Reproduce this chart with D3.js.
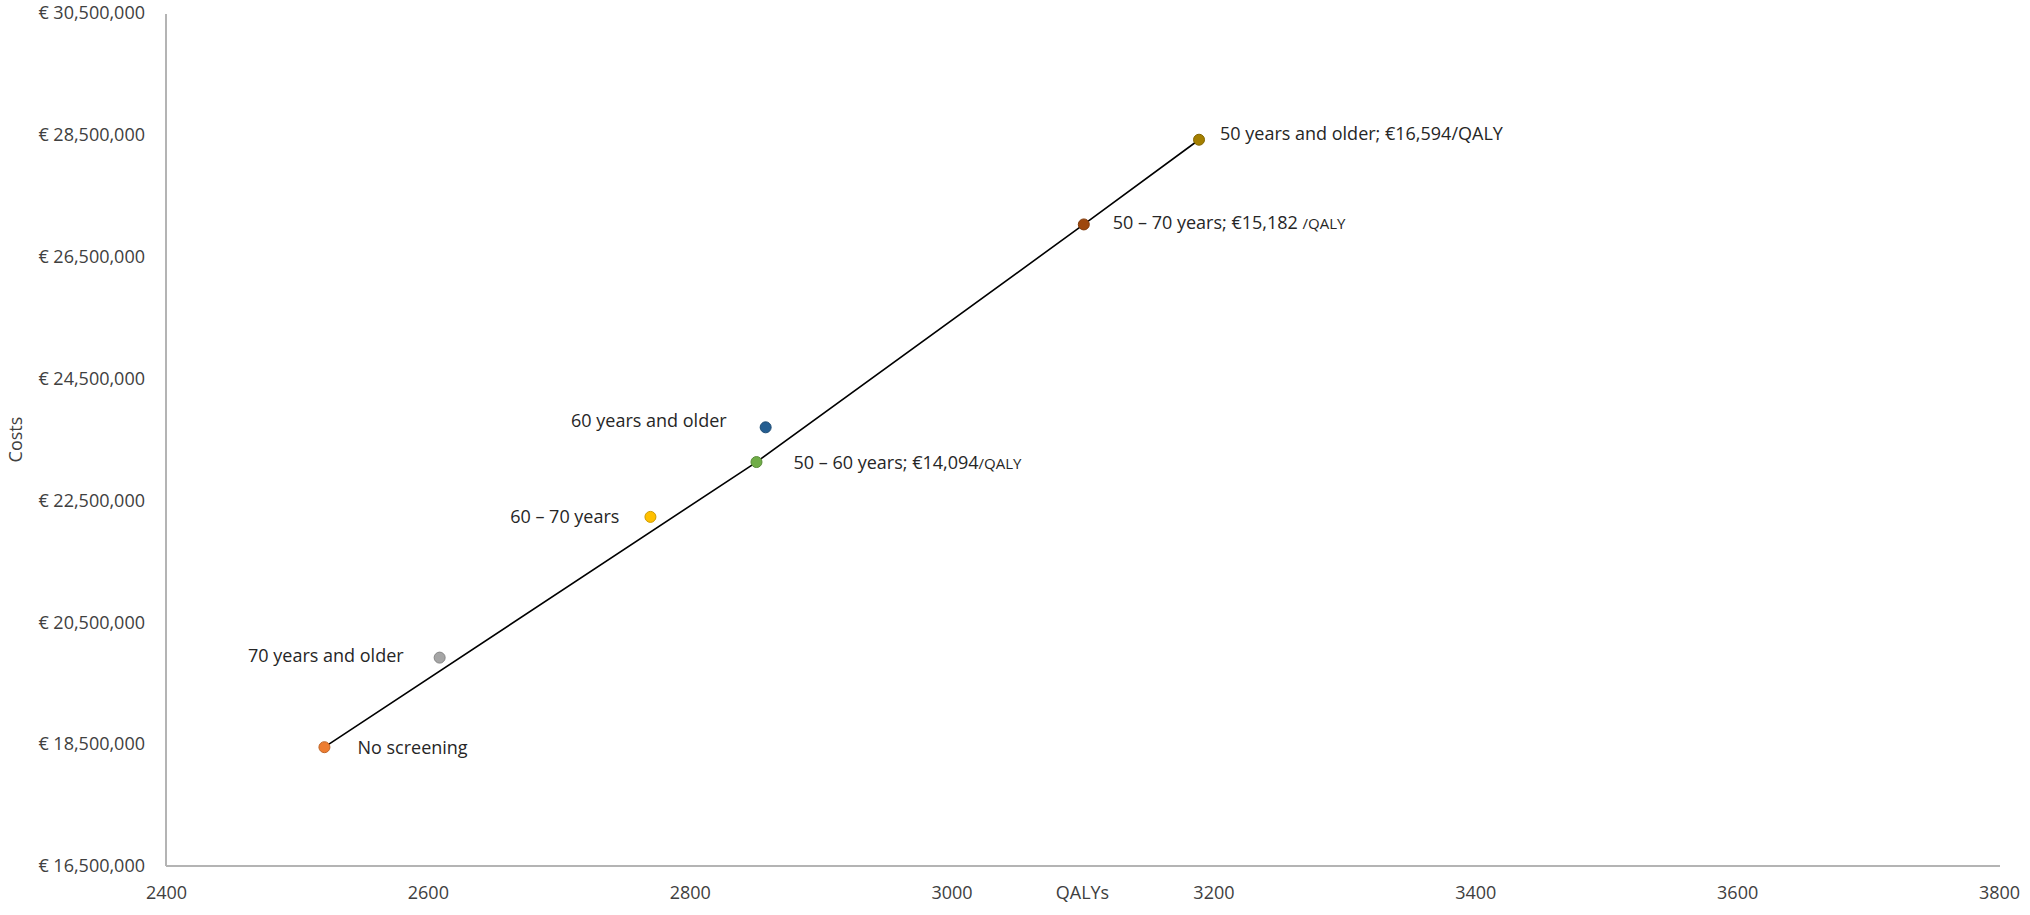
<!DOCTYPE html>
<html>
<head>
<meta charset="utf-8">
<script src="https://cdn.jsdelivr.net/npm/d3@7"></script>
<style>
  html, body { margin: 0; padding: 0; background: #ffffff; }
  svg { display: block; }
  text { font-family: "Open Sans", "Noto Sans", sans-serif; }
</style>
</head>
<body>
<svg id="chart" width="2030" height="915"></svg>
<script>
// ---- data ----
const strategies = ["No screening", "70 years and older", "60 \u2013 70 years", "50 \u2013 60 years", "60 years and older", "50 \u2013 70 years", "50 years and older"];
const qalys = [2521, 2609, 2770, 2851, 2858, 3101, 3189];
const costs = [18450000, 19920000, 22230000, 23130000, 23700000, 27030000, 28420000];
const icerText = ["", "", "", "\u20ac14,094", "", "\u20ac15,182 ", "\u20ac16,594"];
const frontier = ["No screening", "50 \u2013 60 years", "50 \u2013 70 years", "50 years and older"];
const xTicks = [2400, 2600, 2800, 3000, 3200, 3400, 3600, 3800];
const yTicks = [16500000, 18500000, 20500000, 22500000, 24500000, 26500000, 28500000, 30500000];
const xTitle = "QALYs";
const yTitle = "Costs";

// ---- styles ----
const colors = ["#ED7D31", "#A5A5A5", "#FFC000", "#70AD47", "#255E91", "#9E480E", "#A47F00"];
// label placement: [dx, dy, anchor, smallUnit]
const labelPlace = [
  [33, 0, "start", false],
  [-36, -2, "end", false],
  [-31, 0, "end", false],
  [37, 0, "start", true],
  [-39, -7, "end", false],
  [29, -2, "start", true],
  [21, -6, "start", false]
];

const svg = d3.select("#chart");
const margin = { left: 166, top: 13 };

const x = d3.scaleLinear().domain([2400, 3800]).range([margin.left, 1999]);
const y = d3.scaleLinear().domain([16500000, 30500000]).range([866, margin.top]);

const axisColor = "#B4B4B4";
const textColor = "#404040";

// y axis
const yAxis = d3.axisLeft(y).tickValues(yTicks).tickSize(0).tickPadding(21)
  .tickFormat(d => "\u20ac " + d3.format(",")(d));
const gy = svg.append("g").attr("transform", `translate(${margin.left},0)`).call(yAxis);
gy.select(".domain").attr("stroke", axisColor).attr("stroke-width", 2).attr("d", `M0,${y(30500000) + 1}V${y(16500000)}`);
gy.selectAll("text").attr("font-size", 18).attr("fill", textColor).attr("font-family", "Open Sans");

// x axis
const xAxis = d3.axisBottom(x).tickValues(xTicks).tickSize(0).tickPadding(20).tickFormat(d3.format("d"));
const gx = svg.append("g").attr("transform", `translate(0,${y(16500000)})`).call(xAxis);
gx.select(".domain").attr("stroke", axisColor).attr("stroke-width", 2).attr("d", `M${margin.left},0H${x(3800) + 1}`);
gx.selectAll("text").attr("font-size", 18).attr("fill", textColor).attr("font-family", "Open Sans");

// axis titles
svg.append("text")
  .attr("x", (x(2400) + x(3800)) / 2)
  .attr("y", y(16500000) + 20)
  .attr("dy", "0.71em")
  .attr("text-anchor", "middle")
  .attr("font-size", 18)
  .attr("fill", textColor)
  .text(xTitle);

svg.append("text")
  .attr("transform", `translate(22,${(y(16500000) + y(30500000)) / 2}) rotate(-90)`)
  .attr("text-anchor", "middle")
  .attr("font-size", 18)
  .attr("fill", textColor)
  .text(yTitle);

// data rows
const rows = strategies.map((s, i) => ({ name: s, q: qalys[i], c: costs[i], icer: icerText[i], color: colors[i], place: labelPlace[i] }));

// frontier line
const frontierRows = frontier.map(n => rows.find(r => r.name === n));
const line = d3.line().x(d => x(d.q)).y(d => y(d.c));
svg.append("path")
  .datum(frontierRows)
  .attr("d", line)
  .attr("fill", "none")
  .attr("stroke", "#000000")
  .attr("stroke-width", 1.6);

// points
svg.append("g").selectAll("circle")
  .data(rows)
  .join("circle")
  .attr("cx", d => x(d.q))
  .attr("cy", d => y(d.c))
  .attr("r", 5.5)
  .attr("fill", d => d.color)
  .attr("stroke", d => d3.color(d.color).darker(0.6))
  .attr("stroke-width", 1);

// labels
const labels = svg.append("g").selectAll("text")
  .data(rows)
  .join("text")
  .attr("x", d => x(d.q) + d.place[0])
  .attr("y", d => y(d.c) + d.place[1])
  .attr("dy", "0.36em")
  .attr("text-anchor", d => d.place[2])
  .attr("font-size", 18)
  .attr("fill", "#262626");

labels.each(function(d) {
  const t = d3.select(this);
  if (d.icer) {
    t.append("tspan").text(d.name + "; " + d.icer);
    t.append("tspan").attr("font-size", d.place[3] ? 15 : 18).text("/QALY");
  } else {
    t.append("tspan").text(d.name);
  }
});
</script>
</body>
</html>
